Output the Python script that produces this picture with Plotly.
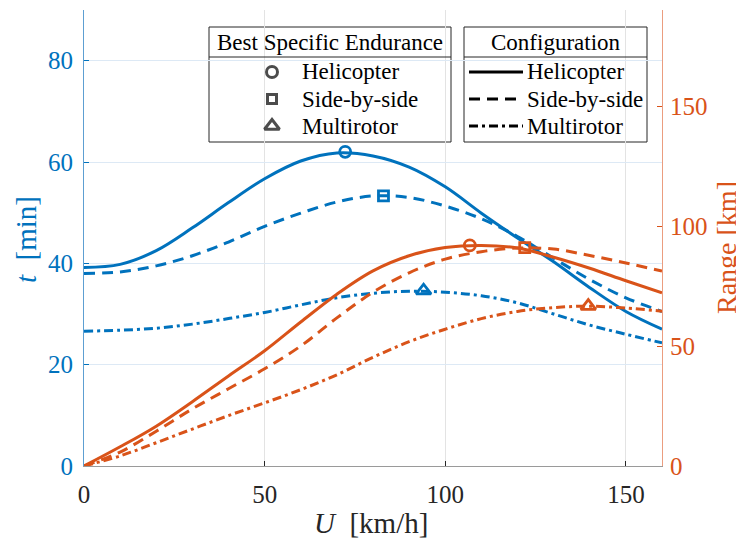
import plotly.graph_objects as go

# ---------------- data ----------------
U = [0, 10, 20, 30, 40, 50, 60, 70, 80, 90, 100, 110, 120, 130, 140, 150, 160]

t_heli  = [39.2, 39.8, 42.5, 47.0, 52.0, 56.7, 60.2, 61.8, 61.2, 59.0, 55.1, 49.9, 45.0, 40.3, 35.2, 30.5, 27.0]
t_sbs   = [38.0, 38.3, 39.5, 41.5, 44.2, 47.3, 49.9, 52.1, 53.3, 53.0, 51.3, 48.8, 45.3, 41.0, 36.8, 33.2, 30.5]
t_multi = [26.6, 26.8, 27.2, 28.0, 29.1, 30.3, 31.8, 33.2, 34.1, 34.5, 34.3, 33.6, 32.2, 30.0, 27.8, 26.0, 24.3]

R_heli  = [0, 8.0, 16.6, 26.8, 37.5, 48.0, 60.0, 71.6, 81.3, 87.6, 91.0, 91.9, 90.8, 87.0, 82.4, 77.2, 72.2]
R_sbs   = [0, 5.8, 14.5, 23.8, 32.2, 40.5, 50.0, 61.7, 72.4, 80.5, 86.2, 89.3, 90.8, 90.4, 87.7, 84.6, 81.2]
R_multi = [0, 4.2, 9.7, 15.4, 21.0, 26.3, 31.8, 38.0, 45.3, 51.8, 57.0, 61.4, 64.4, 66.0, 66.6, 65.8, 64.5]

# best specific endurance points
best_U_t = [72.3, 82.9, 94.0]
best_t   = [62.0, 53.3, 34.6]
best_U_R = [106.8, 122.0, 139.6]
best_R   = [91.9, 91.0, 66.6]

config_names = ["Helicopter", "Side-by-side", "Multirotor"]
marker_symbols = ["circle-open", "square-open", "triangle-up-open"]

x_ticks = [0, 50, 100, 150]
t_ticks = [0, 20, 40, 60, 80]
R_ticks = [0, 50, 100, 150]

# ---------------- style ----------------
BLUE = "#0072BD"
ORANGE = "#D95319"
FONT = "Liberation Serif, Times New Roman, Times, serif"
OFF = 8  # page body margin
W, H = 744 - OFF, 542 - OFF
L, R_, T, B = 84 - OFF, 82, 10 - OFF, 76
PLOT_L, PLOT_T = 84, 10          # plot area in screenshot coordinates
PW, PH = 578, 456

def px(x):
    return (x - PLOT_L) / PW

def py(y):
    return (PLOT_T + PH - y) / PH

dashes = ["solid", "11px,7px", "9px,4px,3px,4px"]
lw = 3

fig = go.Figure()

t_series = [t_heli, t_sbs, t_multi]
R_series = [R_heli, R_sbs, R_multi]
for i in range(3):
    fig.add_trace(go.Scatter(x=U, y=t_series[i], mode="lines", line=dict(color=BLUE, width=lw, dash=dashes[i], shape="spline", smoothing=1.0),
                             xaxis="x", yaxis="y", showlegend=False, hoverinfo="skip"))
for i in range(3):
    fig.add_trace(go.Scatter(x=U, y=R_series[i], mode="lines", line=dict(color=ORANGE, width=lw, dash=dashes[i], shape="spline", smoothing=1.0),
                             xaxis="x", yaxis="y2", showlegend=False, hoverinfo="skip"))
msizes = [11, 10, 13]
for i in range(3):
    fig.add_trace(go.Scatter(x=[best_U_t[i]], y=[best_t[i]], mode="markers",
                             marker=dict(symbol=marker_symbols[i], size=msizes[i], color=BLUE, line=dict(width=2.8, color=BLUE)),
                             xaxis="x", yaxis="y", showlegend=False, hoverinfo="skip"))
    fig.add_trace(go.Scatter(x=[best_U_R[i]], y=[best_R[i]], mode="markers",
                             marker=dict(symbol=marker_symbols[i], size=msizes[i], color=ORANGE, line=dict(width=2.8, color=ORANGE)),
                             xaxis="x", yaxis="y2", showlegend=False, hoverinfo="skip"))

# ---------------- legend boxes ----------------
box1 = (209, 451)
box2 = (464, 647)
top, sep, bot = 27, 57, 142
rows = [72, 99, 126]
shapes = []
for bx in (box1, box2):
    shapes.append(dict(type="rect", xref="paper", yref="paper", x0=px(bx[0]), x1=px(bx[1]), y0=py(bot), y1=py(top),
                       line=dict(color="#262626", width=1), fillcolor="white", layer="between"))
    shapes.append(dict(type="line", xref="paper", yref="paper", x0=px(bx[0]), x1=px(bx[1]), y0=py(sep), y1=py(sep),
                       line=dict(color="#262626", width=1), layer="above"))
for i in range(3):
    shapes.append(dict(type="line", xref="paper", yref="paper", x0=px(469), x1=px(523), y0=py(rows[i]), y1=py(rows[i]),
                       line=dict(color="black", width=3, dash=dashes[i]), layer="above"))

# legend markers on a hidden paper-like axis pair
fig.add_trace(go.Scatter(x=[px(272)] * 3, y=[py(r) for r in rows], mode="markers",
                         marker=dict(symbol=marker_symbols, size=[11, 9, 13], color="black", line=dict(width=3, color="black")),
                         xaxis="x2", yaxis="y3", showlegend=False, hoverinfo="skip"))

LF = 23
annotations = []
annotations.append(dict(text="Best Specific Endurance", x=px((box1[0] + box1[1]) / 2), y=py(42), xref="paper", yref="paper",
                        showarrow=False, xanchor="center", yanchor="middle", font=dict(family=FONT, size=LF, color="black")))
annotations.append(dict(text="Configuration", x=px((box2[0] + box2[1]) / 2), y=py(42), xref="paper", yref="paper",
                        showarrow=False, xanchor="center", yanchor="middle", font=dict(family=FONT, size=LF, color="black")))
for i in range(3):
    annotations.append(dict(text=config_names[i], x=px(300), y=py(rows[i]), xref="paper", yref="paper",
                            showarrow=False, xanchor="left", yanchor="middle", font=dict(family=FONT, size=LF, color="black")))
    annotations.append(dict(text=config_names[i], x=px(525), y=py(rows[i]), xref="paper", yref="paper",
                            showarrow=False, xanchor="left", yanchor="middle", font=dict(family=FONT, size=LF, color="black")))

# axis titles
TF = 29
annotations.append(dict(text="<i>U</i>&nbsp; [km/h]", x=px(371), y=py(523), xref="paper", yref="paper",
                        showarrow=False, xanchor="center", yanchor="middle", font=dict(family=FONT, size=TF, color="#262626")))
annotations.append(dict(text="<i>t</i>&nbsp; [min]", x=px(26), y=py(240), xref="paper", yref="paper", textangle=-90,
                        showarrow=False, xanchor="center", yanchor="middle", font=dict(family=FONT, size=TF, color=BLUE)))
annotations.append(dict(text="Range [km]", x=px(727), y=py(248), xref="paper", yref="paper", textangle=-90,
                        showarrow=False, xanchor="center", yanchor="middle", font=dict(family=FONT, size=28, color=ORANGE)))

fig.update_layout(
    width=W, height=H,
    margin=dict(l=L, r=R_, t=T, b=B, pad=0),
    paper_bgcolor="white", plot_bgcolor="white",
    font=dict(family=FONT, size=25, color="#262626"),
    shapes=shapes, annotations=annotations,
    xaxis=dict(range=[0, 160], tickvals=x_ticks, ticks="inside", ticklen=5, tickcolor="#262626", automargin=False,
               showline=True, linecolor="#9a9a9a", linewidth=1, showgrid=True, gridcolor="#e3e3e3", gridwidth=1,
               zeroline=False, tickfont=dict(family=FONT, size=25, color="#262626"), ticklabelstandoff=6),
    yaxis=dict(range=[0, 90], tickvals=t_ticks, ticks="inside", ticklen=5, tickcolor=BLUE, automargin=False,
               showline=True, linecolor="#5d9fd2", linewidth=1, showgrid=True, gridcolor="#dde9f5", gridwidth=1,
               zeroline=False, tickfont=dict(family=FONT, size=25, color=BLUE), ticklabelstandoff=5),
    yaxis2=dict(range=[0, 190], tickvals=R_ticks, ticks="inside", ticklen=5, tickcolor=ORANGE, automargin=False,
                overlaying="y", side="right", anchor="x",
                showline=True, linecolor="#eb9d7f", linewidth=1, showgrid=False, zeroline=False,
                tickfont=dict(family=FONT, size=25, color=ORANGE), ticklabelstandoff=2),
    xaxis2=dict(range=[0, 1], overlaying="x", visible=False),
    yaxis3=dict(range=[0, 1], overlaying="y", visible=False),
)

fig.write_html("out.html")
